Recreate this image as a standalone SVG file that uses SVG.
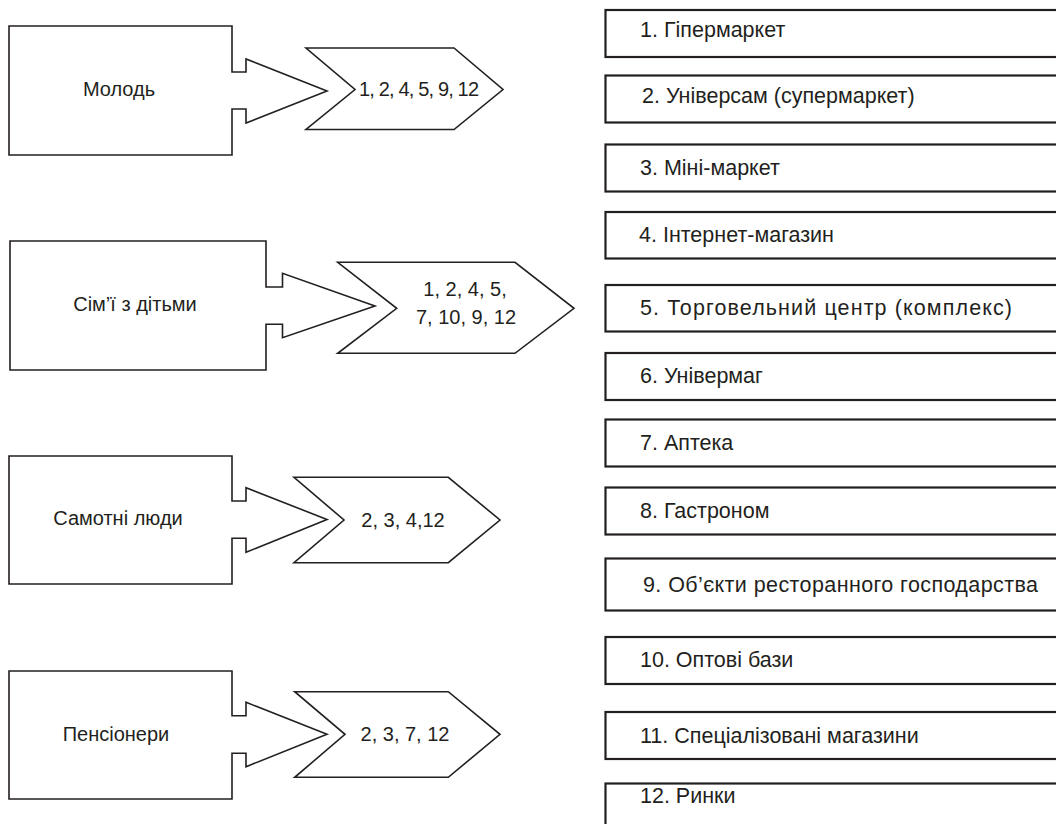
<svg xmlns="http://www.w3.org/2000/svg" width="1056" height="824" viewBox="0 0 1056 824">
<style>
.shape{fill:#fff;stroke:#231f20;stroke-width:1.6;stroke-linejoin:miter}
.box{fill:#fff;stroke:#231f20;stroke-width:2.2}
.t{font-family:"Liberation Sans",Arial,sans-serif;font-size:20px;fill:#231f20}
.c{text-anchor:middle}
.r{font-size:21.5px}
</style>
<rect width="1056" height="824" fill="#fff"/>
<g id="groups">
<g id="g-molod">
<path class="shape" d="M9,26 H232 V72 H246 V59 L327,91 L246,123 V109 H232 V155 H9 Z"/>
<text class="t c" x="119" y="96">Молодь</text>
</g>
<g id="g-simi">
<path class="shape" d="M10,241 H266 V287 H282.5 V273.3 L375,306 L282.5,337.7 V324.3 H266 V370 H10 Z"/>
<text class="t c" x="135" y="311" font-size="21">Сім’ї з дітьми</text>
</g>
<g id="g-samotni">
<path class="shape" d="M9,456 H232 V501 H246 V487.7 L327,519.5 L246,552.3 V538.3 H232 V584 H9 Z"/>
<text class="t c" x="118" y="525">Самотні люди</text>
</g>
<g id="g-pensioner">
<path class="shape" d="M9,671 H232 V715.7 H246 V702.3 L327,734.3 L246,766.7 V753.3 H232 V799 H9 Z"/>
<text class="t c" x="116" y="741">Пенсіонери</text>
</g>
</g>
<g id="connectors">
<g id="c-molod">
<path class="shape" d="M306,48 H454 L503,89.5 L454,129.5 H306 L355,89.5 Z"/>
<text class="t c" x="419" y="96" textLength="120">1, 2, 4, 5, 9, 12</text>
</g>
<g id="c-simi">
<path class="shape" d="M337.7,262.3 H515 L574,308.3 L515,353.3 H337.7 L396.7,308.3 Z"/>
<text class="t c" x="465" y="296">1, 2, 4, 5,</text>
<text class="t c" x="466" y="324">7, 10, 9, 12</text>
</g>
<g id="c-samotni">
<path class="shape" d="M294,477.3 H448.3 L500,520 L448.3,562.7 H294 L344,520 Z"/>
<text class="t c" x="403" y="527">2, 3, 4,12</text>
</g>
<g id="c-pensioner">
<path class="shape" d="M294.7,691.7 H448.3 L500,734.3 L448.3,777.3 H294.7 L345,734.3 Z"/>
<text class="t c" x="405" y="741">2, 3, 7, 12</text>
</g>
</g>
<g id="stores">
<g id="s1"><rect class="box" x="605.5" y="10" width="470" height="47"/><text class="t r" x="640" y="37">1. Гіпермаркет</text></g>
<g id="s2"><rect class="box" x="605.5" y="75.5" width="470" height="47"/><text class="t r" x="642" y="103">2. Універсам (супермаркет)</text></g>
<g id="s3"><rect class="box" x="605.5" y="144.5" width="470" height="47"/><text class="t r" x="640" y="175">3. Міні-маркет</text></g>
<g id="s4"><rect class="box" x="605.5" y="212" width="470" height="46.5"/><text class="t r" x="639" y="242">4. Інтернет-магазин</text></g>
<g id="s5"><rect class="box" x="605.5" y="285" width="470" height="46.5"/><text class="t r" x="640" y="315" textLength="372">5. Торговельний центр (комплекс)</text></g>
<g id="s6"><rect class="box" x="605.5" y="353" width="470" height="47"/><text class="t r" x="640" y="383">6. Універмаг</text></g>
<g id="s7"><rect class="box" x="605.5" y="419.5" width="470" height="47"/><text class="t r" x="640" y="450">7. Аптека</text></g>
<g id="s8"><rect class="box" x="605.5" y="487.5" width="470" height="47"/><text class="t r" x="640" y="518">8. Гастроном</text></g>
<g id="s9"><rect class="box" x="605.5" y="558.5" width="470" height="52"/><text class="t r" x="643" y="592" textLength="395">9. Об’єкти ресторанного господарства</text></g>
<g id="s10"><rect class="box" x="605.5" y="637" width="470" height="47"/><text class="t r" x="640" y="667">10. Оптові бази</text></g>
<g id="s11"><rect class="box" x="605.5" y="712" width="470" height="47"/><text class="t r" x="640" y="743">11. Спеціалізовані магазини</text></g>
<g id="s12"><rect class="box" x="605.5" y="783.5" width="470" height="47"/><text class="t r" x="640" y="803">12. Ринки</text></g>
</g>
</svg>
